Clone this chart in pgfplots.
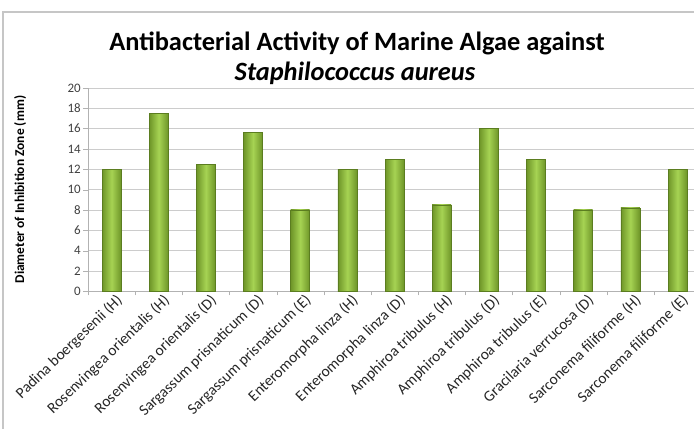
\documentclass[border=0pt]{standalone}
\usepackage{pgfplots}
\pgfplotsset{compat=1.18}
\usepackage{fontspec}
\setmainfont{Carlito}
\definecolor{barlight}{HTML}{A6D353}
\definecolor{bardark}{HTML}{6E9528}
\definecolor{baredge}{HTML}{5B7D20}
\pgfplotsset{mybar/.style={ybar, bar width=19bp, bar shift=0pt, draw=baredge, line width=0.6bp, left color=bardark, right color=bardark, middle color=barlight}}
\begin{document}
\begin{tikzpicture}
\path[use as bounding box] (0bp,0bp) rectangle (694bp,-429bp);
\begin{scope}
\clip (0bp,0bp) rectangle (694bp,-429bp);
\draw[gray!45, line width=1.2bp] (3bp,-12bp) rectangle (720bp,-460bp);
\begin{axis}[
  at={(88bp,-291.3bp)}, anchor=south west,
  scale only axis, width=606bp, height=203.4bp,
  xmin=-0.5, xmax=12.35, ymin=0, ymax=20,
  ytick={0,2,...,20},
  xtick={0,...,12},
  xticklabels={Padina boergesenii (H),Rosenvingea orientalis (H),Rosenvingea orientalis (D),Sargassum prisnaticum (D),Sargassum prisnaticum (E),Enteromorpha linza (H),Enteromorpha linza (D),Amphiroa tribulus (H),Amphiroa tribulus (D),Amphiroa tribulus (E),Gracilaria verrucosa (D),Sarconema filiforme (H),Sarconema filiforme (E)},
  major x tick style={draw=none},
  minor xtick={-0.5,0.5,...,12.5},
  minor tick length=4bp,
  major tick length=5bp,
  tick align=outside,
  axis lines*=left,
  axis line style={gray!60,-},
  tick style={gray!60},
  ymajorgrids, grid style={gray!40, line width=0.8bp},
  /pgf/number format/assume math mode=true,
  yticklabel style={font=\fontsize{13}{13}\selectfont, text=black!75, inner sep=2bp},
  xticklabel style={font=\fontsize{15.5}{15.5}\selectfont, text=black!85, rotate=44, anchor=north east, inner sep=1bp, xshift=6bp, yshift=1bp},
  ylabel={\textbf{Diameter of Inhibition Zone (mm)}},
  ylabel style={font=\fontsize{13.5}{14}\selectfont, yshift=36bp},
  clip=false,
]
\addplot[mybar] coordinates {(0,12)};
\addplot[mybar] coordinates {(1,17.5)};
\addplot[mybar] coordinates {(2,12.5)};
\addplot[mybar] coordinates {(3,15.6)};
\addplot[mybar] coordinates {(4,8)};
\addplot[mybar] coordinates {(5,12)};
\addplot[mybar] coordinates {(6,13)};
\addplot[mybar] coordinates {(7,8.5)};
\addplot[mybar] coordinates {(8,16)};
\addplot[mybar] coordinates {(9,13)};
\addplot[mybar] coordinates {(10,8)};
\addplot[mybar] coordinates {(11,8.2)};
\addplot[mybar] coordinates {(12,12)};
\end{axis}
\end{scope}
\node[font=\fontsize{26.5}{28}\selectfont\bfseries] at (357bp,-43bp) {Antibacterial Activity of Marine Algae against};
\node[font=\fontsize{26.5}{28}\selectfont\bfseries\itshape] at (355bp,-73bp) {Staphilococcus aureus};
\end{tikzpicture}
\end{document}
